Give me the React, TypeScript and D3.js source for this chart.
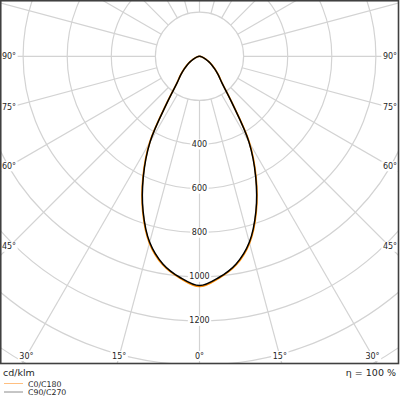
import { curveCatmullRom, lineRadial, range, scaleLinear } from "d3";

const WIDTH = 400;
const HEIGHT = 400;
const FRAME = { left: 0.75, top: 0.75, right: 398.5, bottom: 363.5 };
const CENTER = { x: 199.5, y: 56.3 };
const LABEL_INSET = { left: 9, right: 390, bottom: 356 };

// gamma angles (0° = straight down) and intensities in cd/klm
const gammaAngles = [0, 5, 10, 15, 20, 25, 30, 35, 40, 45, 50, 55, 60, 65, 70, 75, 80, 85, 90, 120, 150, 180];
const c0c180 = [1044, 1010, 960, 877, 752, 607, 452, 257, 161, 123, 93, 69, 49, 33, 21, 12, 6, 2, 0, 0, 0, 0];
const c90c270 = [1040, 1007, 956, 873, 748, 603, 448, 254, 159, 121, 91, 68, 48, 32, 20, 11, 5, 2, 0, 0, 0, 0];

const ringValues = [200, 400, 600, 800, 1000, 1200, 1400, 1600];
const ringLabels = ["400", "600", "800", "1000", "1200"];
const spokeAngles = range(0, 360, 15);
const angleLabels = [0, 15, 30, 45, 60, 75, 90];

const FONT = "DejaVu Sans, sans-serif";

export default function App() {
  const rScale = scaleLinear().domain([0, 1000]).range([0, 220.5]);

  // full curve: mirror the half plane for the other side
  const toPoints = (values: number[]) => {
    const half = gammaAngles.map((a, i) => ({ a, v: values[i] }));
    const left = half.slice().reverse().map((p) => ({ a: -p.a, v: p.v }));
    return [...left.slice(0, -1), ...half];
  };

  const radial = lineRadial<{ a: number; v: number }>()
    .angle((p) => Math.PI + (p.a * Math.PI) / 180)
    .radius((p) => rScale(p.v))
    .curve(curveCatmullRom.alpha(0.5));

  const pathC0 = radial(toPoints(c0c180)) ?? "";
  const pathC90 = radial(toPoints(c90c270)) ?? "";

  const innerR = rScale(200);
  const outerR = rScale(2500);

  const labelPos = (deg: number, side: number) => {
    const t = (deg * Math.PI) / 180;
    const dx = side * Math.sin(t);
    const dy = Math.cos(t);
    const limits: number[] = [];
    if (dx < -1e-6) limits.push((CENTER.x - LABEL_INSET.left) / -dx);
    if (dx > 1e-6) limits.push((LABEL_INSET.right - CENTER.x) / dx);
    if (dy > 1e-6) limits.push((LABEL_INSET.bottom - CENTER.y) / dy);
    const s = Math.min(...limits);
    return { x: CENTER.x + dx * s, y: CENTER.y + dy * s };
  };

  const angleLabelItems: { key: string; x: number; y: number; text: string }[] = [];
  angleLabels.forEach((deg) => {
    const sides = deg === 0 ? [1] : [-1, 1];
    sides.forEach((side) => {
      const p = labelPos(deg, side);
      angleLabelItems.push({ key: `${deg}-${side}`, x: p.x, y: p.y, text: `${deg}°` });
    });
  });

  return (
    <svg
      width={WIDTH}
      height={HEIGHT}
      viewBox={`0 0 ${WIDTH} ${HEIGHT}`}
      style={{ position: "absolute", left: 0, top: 0, background: "#fff" }}
      fontFamily={FONT}
    >
      <defs>
        <clipPath id="frameClip">
          <rect
            x={FRAME.left}
            y={FRAME.top}
            width={FRAME.right - FRAME.left}
            height={FRAME.bottom - FRAME.top}
          />
        </clipPath>
      </defs>

      <g clipPath="url(#frameClip)">
        <g transform={`translate(${CENTER.x},${CENTER.y})`}>
          {spokeAngles.map((deg) => {
            const t = (deg * Math.PI) / 180;
            return (
              <line
                key={deg}
                x1={innerR * Math.sin(t)}
                y1={innerR * Math.cos(t)}
                x2={outerR * Math.sin(t)}
                y2={outerR * Math.cos(t)}
                stroke="#d3d3d3"
                strokeWidth={1.2}
              />
            );
          })}
          {ringValues.map((v) => (
            <circle key={v} r={rScale(v)} fill="none" stroke="#d3d3d3" strokeWidth={1.2} />
          ))}

          {ringLabels.map((label) => {
            const y = rScale(+label);
            const w = label.length * 5.1 + 3;
            return (
              <g key={label} transform={`translate(0,${y})`}>
                <rect x={-w / 2} y={-5} width={w} height={10} fill="#fff" />
                <text
                  textAnchor="middle"
                  dominantBaseline="central"
                  fontSize={8}
                  fill="#262626"
                >
                  {label}
                </text>
              </g>
            );
          })}

          <path d={pathC0} fill="none" stroke="#ff8c00" strokeWidth={1.7} />
          <path d={pathC90} fill="none" stroke="#000" strokeWidth={1.5} />
        </g>

        {angleLabelItems.map((item) => {
          const w = item.text.length * 5.1 + 2;
          return (
            <g key={item.key} transform={`translate(${item.x},${item.y})`}>
              <rect x={-w / 2} y={-5} width={w} height={10} fill="#fff" />
              <text
                textAnchor="middle"
                dominantBaseline="central"
                fontSize={8}
                fill="#262626"
              >
                {item.text}
              </text>
            </g>
          );
        })}
      </g>

      <rect
        x={FRAME.left}
        y={FRAME.top}
        width={FRAME.right - FRAME.left}
        height={FRAME.bottom - FRAME.top}
        fill="none"
        stroke="#404040"
        strokeWidth={1.6}
      />

      <text x={3} y={376} fontSize={9.5} fill="#262626">
        cd/klm
      </text>
      <text x={396} y={376} fontSize={9.5} fill="#262626" textAnchor="end">
        η = 100 %
      </text>

      <line x1={4} x2={23} y1={383.5} y2={383.5} stroke="#ffbf80" strokeWidth={1} />
      <text x={28} y={386.5} fontSize={7.8} fill="#262626">
        C0/C180
      </text>
      <line x1={4} x2={23} y1={392} y2={392} stroke="#8c8c8c" strokeWidth={1} />
      <text x={28} y={395} fontSize={7.8} fill="#262626">
        C90/C270
      </text>
    </svg>
  );
}
